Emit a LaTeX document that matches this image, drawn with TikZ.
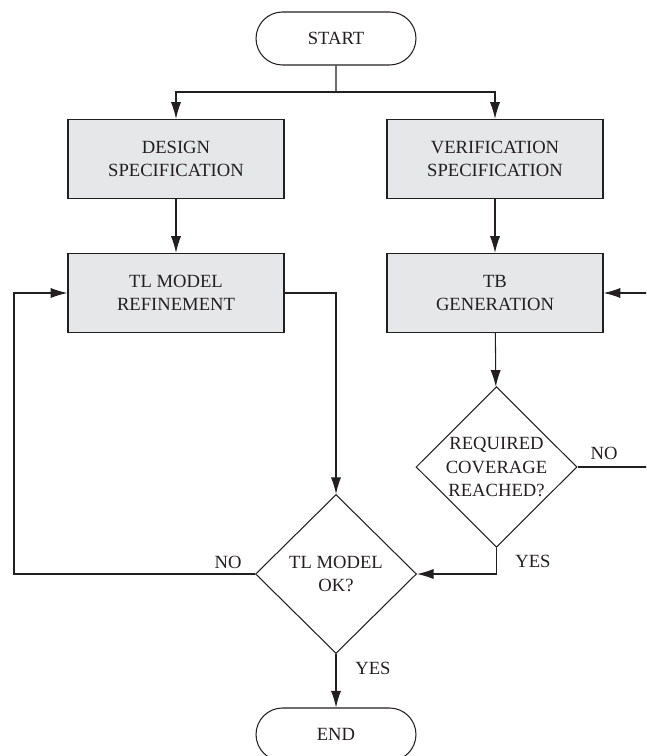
\documentclass[tikz,border=0pt]{standalone}
\usepackage{fontspec}
\setmainfont{Liberation Serif}
\usepackage{tikz}
\usetikzlibrary{arrows.meta}
\usetikzlibrary{shapes.geometric}
\usetikzlibrary{shapes.misc}
\definecolor{boxgray}{HTML}{E6E7E8}
\definecolor{inkgray}{HTML}{231F20}
\begin{document}
\begin{tikzpicture}[x=0.02cm, y=-0.02cm,
		every node/.style={font=\fontsize{10.6}{13.3}\selectfont, text=inkgray},
		terminal/.style={rounded rectangle, draw=inkgray, line width=0.6pt, minimum width=3.2cm, minimum height=1.06cm, inner sep=0pt},
		process/.style={rectangle, draw=inkgray, fill=boxgray, line width=0.8pt, minimum width=4.32cm, minimum height=1.58cm, align=center, inner sep=0pt},
		decision/.style={diamond, draw=inkgray, line width=0.6pt, minimum width=3.22cm, minimum height=3.18cm, align=center, inner sep=0pt},
		arr/.style={draw=inkgray, line width=0.6pt, -{Latex[length=9.5pt,width=5.8pt]}},
		ln/.style={draw=inkgray, line width=0.6pt}]
				\useasboundingbox (0,0) rectangle (646,756);
				\clip (0,0) rectangle (646,756);
				
				\node[terminal] (start) at (336,38.5) {START};
				\node[process] (design) at (176,159) {DESIGN\\SPECIFICATION};
				\node[process] (verif) at (495,159) {VERIFICATION\\SPECIFICATION};
				\node[process] (tlref) at (176,293) {TL MODEL\\REFINEMENT};
				\node[process] (tbgen) at (495,293) {TB\\GENERATION};
				\node[decision] (covdec) at (496.5,467) {REQUIRED\\COVERAGE\\REACHED?};
				\node[decision] (okdec) at (336,574) {TL MODEL\\OK?};
				\node[terminal] (end) at (336,734.5) {END};
				
				\coordinate (split) at (336,92);
				\coordinate (loopL) at (14,0);
				\coordinate (loopR) at (660,0);
				
				\draw[ln]  (start) -- (split);
				\draw[arr] (split) -| (design);
				\draw[arr] (split) -| (verif);
				\draw[arr] (design) -- (tlref);
				\draw[arr] (verif) -- (tbgen);
				\draw[arr] (tbgen) -- (covdec);
				\draw[arr] (tlref.east) -| (okdec.north);
				\draw[arr] (covdec.south) |- (okdec.east);
				\draw[arr] (okdec.south) -- (end.north);
				\draw[arr] (okdec.west) -- (okdec.west -| loopL) |- (tlref.west);
				\draw[arr] (covdec.east) -- (covdec.east -| loopR) |- (tbgen.east);
				
				\node (nol) at (228,562) {NO};
				\node (nor) at (604,453) {NO};
				\node (yesr) at (533,561) {YES};
				\node (yesb) at (373,668) {YES};
			\end{tikzpicture}
\end{document}
